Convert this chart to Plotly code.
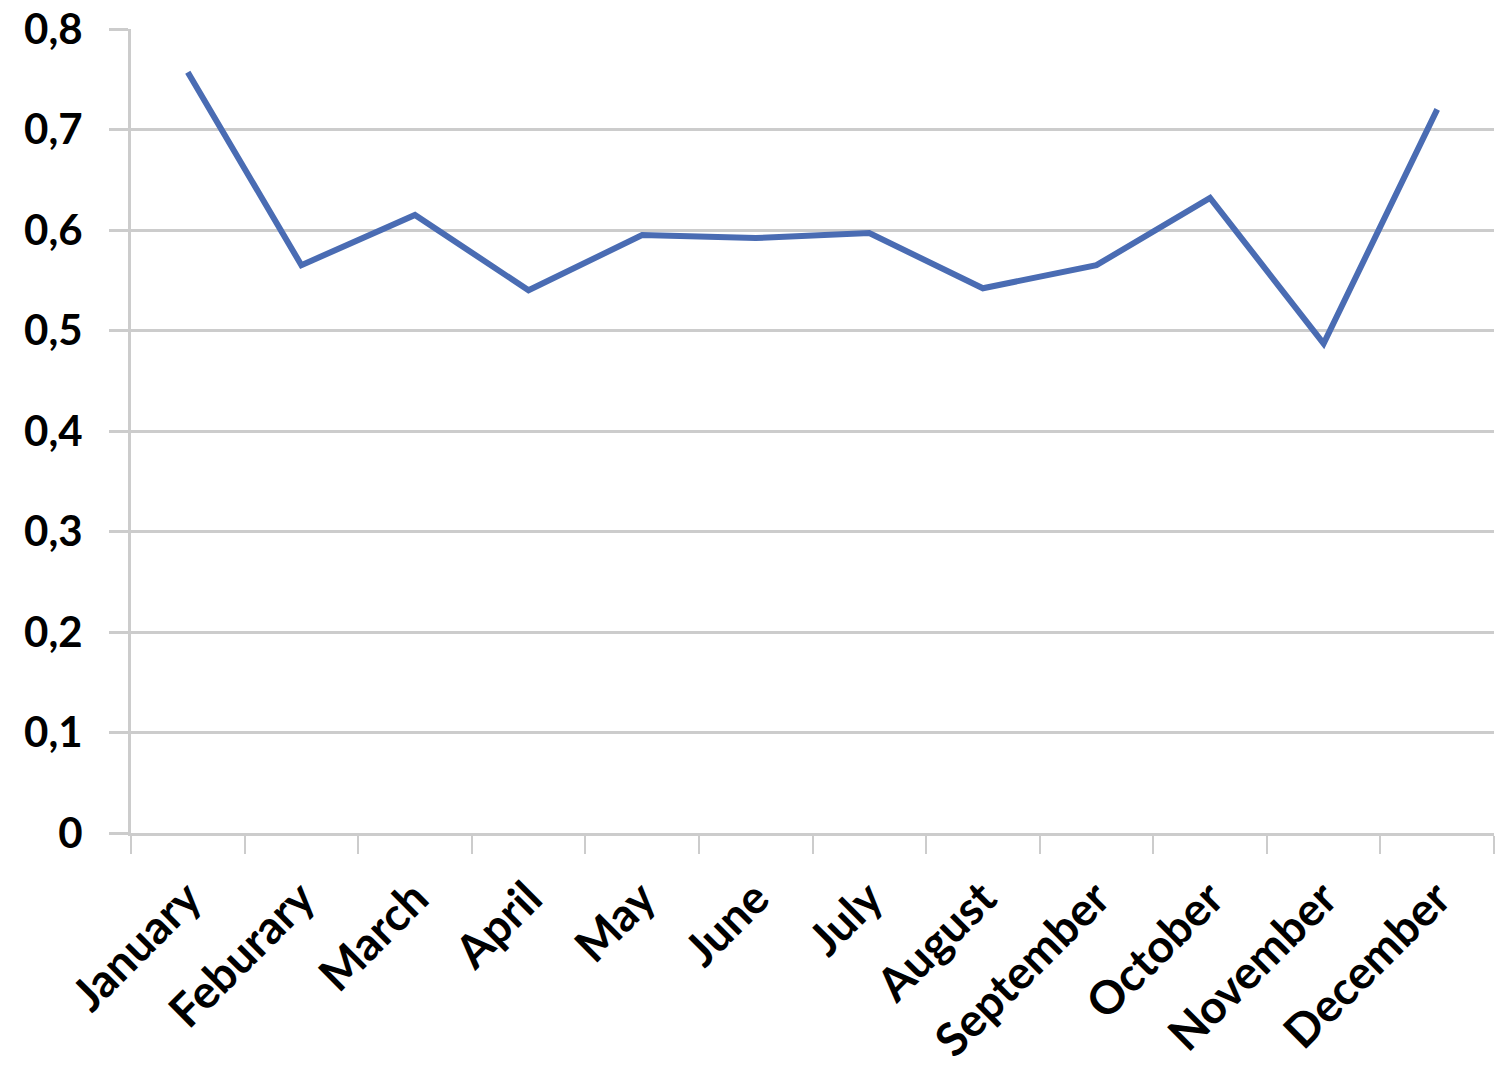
import plotly.graph_objects as go

months = ["January", "Feburary", "March", "April", "May", "June", "July",
          "August", "September", "October", "November", "December"]
values = [0.757, 0.565, 0.615, 0.540, 0.595, 0.592, 0.597,
          0.542, 0.565, 0.632, 0.487, 0.720]
y_ticks = [0, 0.1, 0.2, 0.3, 0.4, 0.5, 0.6, 0.7, 0.8]

grid = "#cccccc"
fig = go.Figure()
fig.add_trace(go.Scatter(
    x=months, y=values, mode="lines",
    line=dict(color="#4a6cb3", width=6),
    showlegend=False,
))

fig.update_layout(
    width=1499, height=1075,
    margin=dict(l=131, r=5, t=29, b=242),
    paper_bgcolor="white", plot_bgcolor="white",
    separators=",.",
    font=dict(family="Lato", color="black"),
)
fig.update_xaxes(
    type="category", range=[-0.5, 11.5], automargin=False,
    showline=True, linecolor=grid, linewidth=3,
    ticks="outside", tickson="boundaries", ticklen=18, tickwidth=2, tickcolor=grid,
    tickangle=-45, showgrid=False,
    tickfont=dict(size=46, family="Lato", weight="bold"),
    ticklabelstandoff=17, ticklabeloverflow="allow",
)
fig.update_yaxes(
    range=[0, 0.8], tickvals=y_ticks, automargin=False,
    showline=True, linecolor=grid, linewidth=3,
    showgrid=True, gridcolor=grid, gridwidth=3, zeroline=False,
    ticks="outside", ticklen=19, tickwidth=3, tickcolor=grid,
    tickfont=dict(size=42, family="Lato", weight="bold"),
    ticklabelstandoff=18, ticklabeloverflow="allow",
)

fig.write_html("out.html", config={"displayModeBar": False},
               post_script="document.body.style.margin='0';")
